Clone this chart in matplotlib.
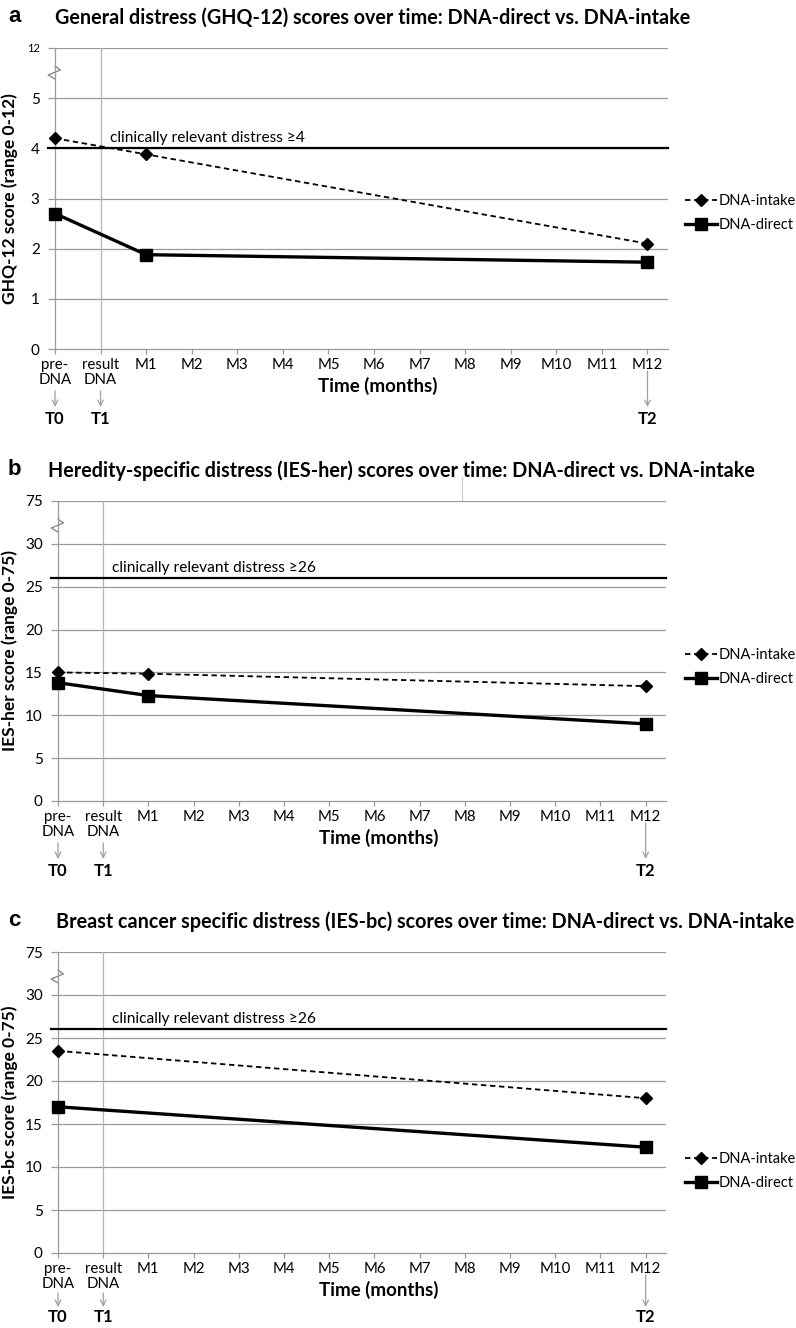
import matplotlib
matplotlib.use("Agg")
from matplotlib import pyplot as plt
from matplotlib.lines import Line2D

plt.rcParams["font.family"] = ["Lato", "DejaVu Sans"]

# x categories (0 = pre-DNA, 1 = result DNA, 2..13 = M1..M12)
x_labels = ["pre-\nDNA", "result\nDNA"] + [f"M{i}" for i in range(1, 13)]
x_pos = list(range(len(x_labels)))

# Panel a: GHQ-12
a_x = [0, 2, 13]
a_intake = [4.2, 3.88, 2.1]
a_direct = [2.7, 1.88, 1.73]
a_ticks = [0, 1, 2, 3, 4, 5, 6]
a_ticklabels = ["0", "1", "2", "3", "4", "5", "12"]
a_cutoff = 4

# Panel b: IES-her
b_x = [0, 2, 13]
b_intake = [15.0, 14.85, 13.4]
b_direct = [13.8, 12.3, 9.0]
b_ticks = [0, 5, 10, 15, 20, 25, 30, 35]
b_ticklabels = ["0", "5", "10", "15", "20", "25", "30", "75"]
b_cutoff = 26

# Panel c: IES-bc
c_x = [0, 13]
c_intake = [23.5, 18.0]
c_direct = [17.0, 12.3]
c_ticks = b_ticks
c_ticklabels = b_ticklabels
c_cutoff = 26

W, H = 796, 1328
fig = plt.figure(figsize=(W / 100, H / 100), dpi=100)
GRID = "#9a9a9a"
XMAX = 13.45


def add_axes_px(left, right, top, bottom):
    return fig.add_axes([left / W, 1 - bottom / H, (right - left) / W, (bottom - top) / H])


def draw_panel(box, letter, title, title_x, ylabel, ticks, ticklabels, cutoff, cutoff_text,
               xs, intake, direct, legend_top, small_top=False, t_off=(42, 58, 70)):
    left, right, top, bottom = box
    ax = add_axes_px(left, right, top, bottom)
    hpx = bottom - top
    ymax = ticks[-1]
    ax.set_xlim(0, XMAX)
    ax.set_ylim(0, ymax)

    for t in ticks[1:]:
        ax.axhline(t, color=GRID, lw=0.9, zorder=1)
    ax.axvline(1, color="#b4b4b4", lw=0.9, zorder=1)

    for s in ["top", "right"]:
        ax.spines[s].set_visible(False)
    for s in ["left", "bottom"]:
        ax.spines[s].set_color(GRID)
        ax.spines[s].set_linewidth(0.9)

    ax.set_yticks(ticks)
    ax.set_yticklabels(ticklabels)
    ax.set_xticks(x_pos)
    ax.set_xticklabels(x_labels, linespacing=1.1)
    ax.tick_params(axis="y", length=5, width=0.9, color=GRID, pad=6, labelsize=11)
    ax.tick_params(axis="x", length=3.5, width=0.9, color=GRID, pad=3, labelsize=10.8)
    if small_top:
        ax.get_yticklabels()[-1].set_fontsize(8)

    # axis break mark
    zx = [0, 0.12, -0.15, 0]
    zy = [ymax - 18 / hpx * ymax, ymax - 22 / hpx * ymax, ymax - 27 / hpx * ymax, ymax - 31 / hpx * ymax]
    ax.plot(zx, zy, color="#808080", lw=0.9, clip_on=False, zorder=2)

    # clinical cutoff
    ax.plot([-0.15, XMAX], [cutoff, cutoff], color="black", lw=1.6, clip_on=False, zorder=3)
    ax.annotate(cutoff_text, (1.2, cutoff), xytext=(0, 2.5), textcoords="offset points",
                fontsize=11.2, va="bottom", ha="left")

    li, = ax.plot(xs, intake, color="black", lw=1.3, ls=(0, (3, 2)), marker="D",
                  markersize=6, clip_on=False, zorder=4, label="DNA-intake")
    ld, = ax.plot(xs, direct, color="black", lw=2.4, marker="s",
                  markersize=8, clip_on=False, zorder=5, label="DNA-direct")

    ax.legend(handles=[li, ld], loc="upper left", frameon=False, fontsize=10.5,
              bbox_to_anchor=(685 / W, 1 - legend_top / H), bbox_transform=fig.transFigure,
              borderpad=0, borderaxespad=0, handlelength=2.2, handletextpad=0.1,
              labelspacing=0.7)

    ax.set_ylabel(ylabel, fontsize=12.5, fontweight="bold")
    ax.yaxis.set_label_coords(-(left - 18) / (right - left), 0.5)
    ax.set_xlabel("Time (months)", fontsize=13.5, fontweight="bold")
    ax.xaxis.set_label_coords(0.527, -37 / hpx)
    ax.xaxis.label.set_va("center")

    # timepoint arrows
    tr = ax.get_xaxis_transform()
    a_start, a_end, lab = t_off
    for xv, name in [(0, "T0"), (1, "T1"), (13, "T2")]:
        start = 22 if xv == 13 else a_start
        ax.annotate("", xy=(xv, -a_end / hpx), xytext=(xv, -start / hpx),
                    xycoords=tr, textcoords=tr,
                    arrowprops=dict(arrowstyle="->", color="#a0a0a0", lw=0.9,
                                    shrinkA=0, shrinkB=0))
        ax.text(xv, -lab / hpx, name, transform=tr, ha="center", va="center",
                fontsize=12, fontweight="bold")

    fig.text(8 / W, 1 - (top - 32) / H, letter, fontsize=16, fontweight="bold",
             family="Liberation Sans", va="center", ha="left")
    fig.text(title_x / W, 1 - (top - 30) / H, title, fontsize=14.2, fontweight="bold",
             va="center", ha="left")
    return ax


draw_panel((55, 668, 48, 349), "a",
           "General distress (GHQ-12) scores over time: DNA-direct vs. DNA-intake", 55,
           "GHQ-12 score (range 0-12)", a_ticks, a_ticklabels, a_cutoff,
           "clinically relevant distress \u22654", a_x, a_intake, a_direct, 194,
           small_top=True)
draw_panel((58, 666, 501, 801), "b",
           "Heredity-specific distress (IES-her) scores over time: DNA-direct vs. DNA-intake", 48,
           "IES-her score (range 0-75)", b_ticks, b_ticklabels, b_cutoff,
           "clinically relevant distress \u226526", b_x, b_intake, b_direct, 648)
draw_panel((58, 666, 952, 1253), "c",
           "Breast cancer specific distress (IES-bc) scores over time: DNA-direct vs. DNA-intake", 56,
           "IES-bc score (range 0-75)", c_ticks, c_ticklabels, c_cutoff,
           "clinically relevant distress \u226526", c_x, c_intake, c_direct, 1152,
           t_off=(40, 54, 64))

# small stray line above panel b
fig.add_artist(Line2D([462 / W, 462 / W], [1 - 477 / H, 1 - 500 / H], color="#c8c8c8", lw=0.8))

fig.savefig("out.png", dpi=100)
